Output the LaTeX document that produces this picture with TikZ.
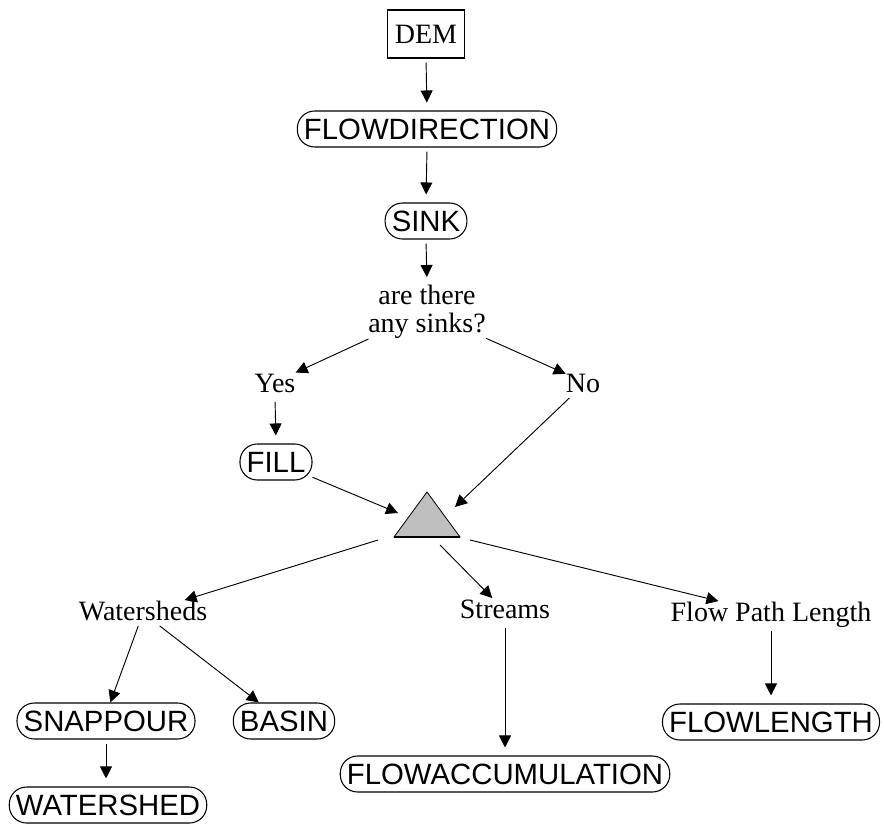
\documentclass[tikz,border=0pt]{standalone}
\usepackage{fontspec}
\setmainfont{Liberation Serif}
\newfontfamily\opfont{Liberation Sans}
\usetikzlibrary{arrows.meta}

\begin{document}
\begin{tikzpicture}[x=0.75pt,y=-0.75pt]
\tikzset{font=\fontsize{21}{21}\selectfont}
\tikzset{lbl/.style={inner sep=0pt, text height=15pt, text depth=4pt}}
\tikzset{op/.style={draw, line width=0.8pt, rounded corners=13pt, minimum height=27pt, inner xsep=5pt, inner ysep=0pt, text height=16pt, text depth=0pt, font=\opfont\fontsize{22}{22}\selectfont}}
\tikzset{arr/.style={-{Triangle[length=9pt,width=9pt]}, line width=0.7pt}}
\tikzset{down/.style={arr, shorten <=3pt, shorten >=6pt}}
\useasboundingbox (0,0) rectangle (884,827);
\node[draw, line width=0.8pt, minimum width=58pt, minimum height=36pt, inner sep=0pt] (dem) at (426,34) {DEM};
\node[op] (flowdir) at (427,129) {FLOWDIRECTION};
\node[op] (sink) at (426,221) {SINK};
\node[align=center, inner sep=0pt] (ask) at (427,312) {are there\\any sinks?};
\node[lbl] (yes) at (275,385) {Yes};
\node[lbl] (no) at (583,385) {No};
\node[op] (fillop) at (276,462) {FILL};
\coordinate (tri) at (427,520);
\draw[fill=gray!50, line width=0.6pt] ([shift={(0,-28)}]tri) -- ([shift={(33,17)}]tri) -- ([shift={(-33,17)}]tri) -- cycle;
\draw[line width=2pt] ([shift={(-33,17)}]tri) -- ([shift={(33,17)}]tri);
\node[lbl] (sheds) at (143,613) {Watersheds};
\node[lbl] (streams) at (505,611) {Streams};
\node[lbl] (fpl) at (771,614) {Flow Path Length};
\node[op] (snap) at (106,721) {SNAPPOUR};
\node[op] (basin) at (284,721) {BASIN};
\node[op] (wshed) at (108,805) {WATERSHED};
\node[op] (flowacc) at (505,774) {FLOWACCUMULATION};
\node[op] (flowlen) at (771,722) {FLOWLENGTH};
\draw[down] (dem.south) -- (flowdir.north);
\draw[down] (flowdir.south) -- (sink.north);
\draw[down] (sink.south) -- (ask.north);
\draw[down] (yes.south) -- (fillop.north);
\draw[down] (snap.south) -- (snap.south |- wshed.north);
\draw[down] (streams.south) -- (flowacc.north);
\draw[down] (fpl.south) -- (flowlen.north);
\draw[arr] ([shift={(-69,23)}]ask) -- ([shift={(12,-17)}]yes);
\draw[arr] ([shift={(71,18)}]ask) -- ([shift={(-20,-23)}]no);
\draw[arr] ([shift={(42,23)}]fillop) -- ([shift={(-29,-7)}]tri);
\draw[arr] ([shift={(-3,20)}]no) -- ([shift={(28,-13)}]tri);
\draw[arr] ([shift={(-49,20)}]tri) -- ([shift={(14,-21)}]sheds);
\draw[arr] ([shift={(13,25)}]tri) -- ([shift={(-32,-26)}]streams);
\draw[arr] ([shift={(43,20)}]tri) -- ([shift={(-58,-22)}]fpl);
\draw[arr] ([shift={(-17,22)}]sheds) -- ([shift={(7,-36)}]snap);
\draw[arr] ([shift={(24,22)}]sheds) -- ([shift={(-26,-36)}]basin);
\end{tikzpicture}
\end{document}
